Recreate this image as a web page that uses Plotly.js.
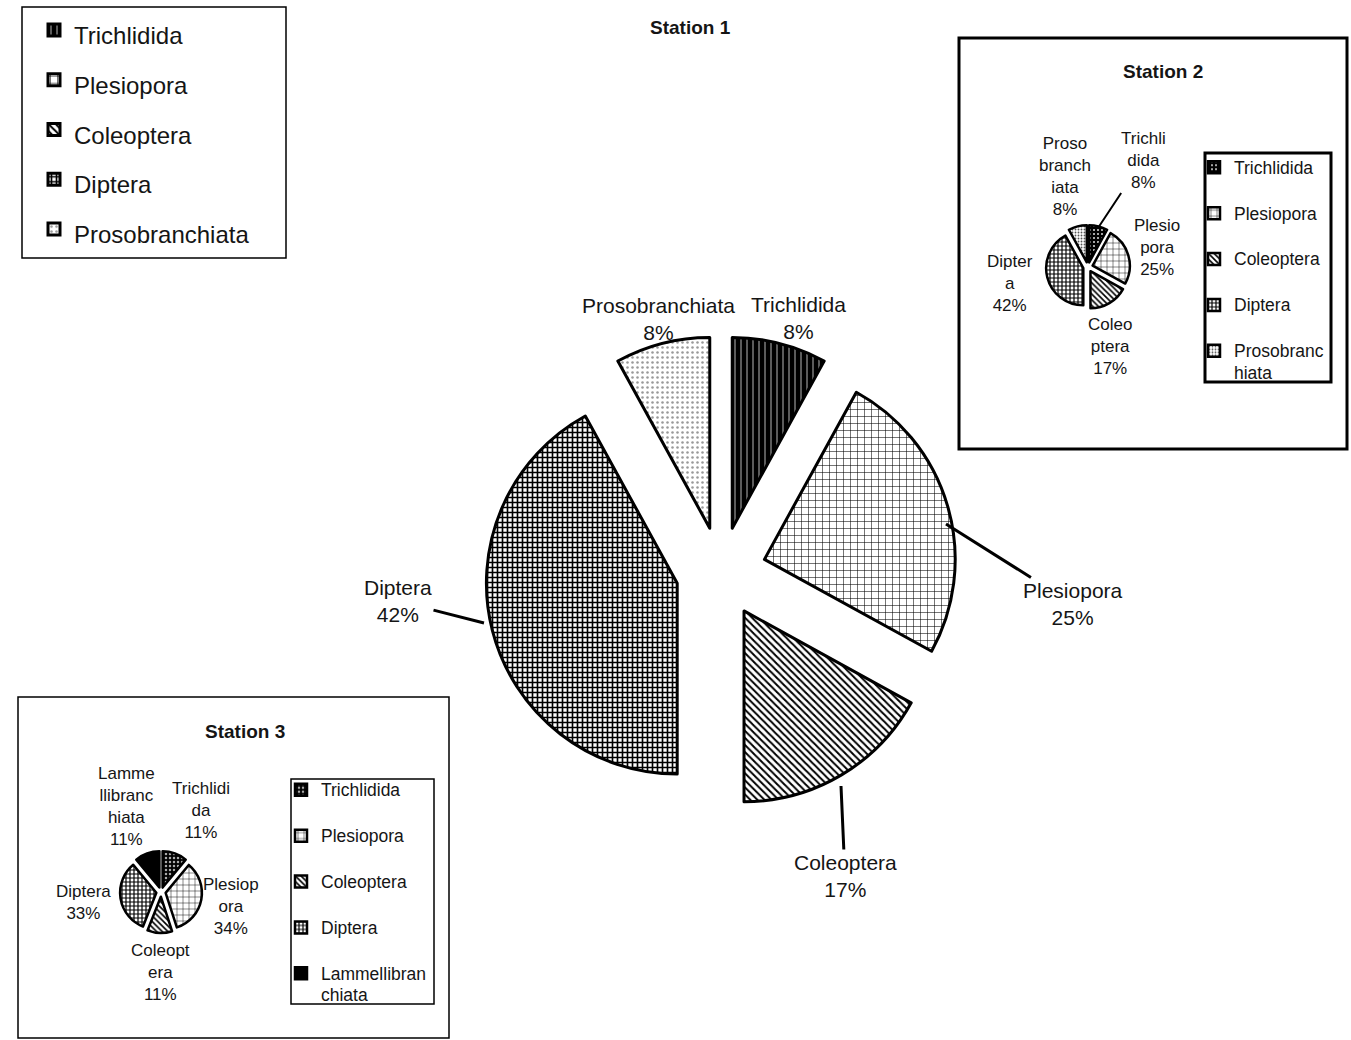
<!DOCTYPE html>
<html><head><meta charset="utf-8">
<script src="https://cdn.plot.ly/plotly-3.0.1.min.js"></script>
<style>html,body{margin:0;padding:0;background:#fff}#chart{width:1351px;height:1040px}</style>
</head><body><div id="chart"></div>
<script>
// ---------------- data ----------------
const categories1 = ['Trichlidida','Plesiopora','Coleoptera','Diptera','Prosobranchiata'];
const percents1   = [8, 25, 17, 42, 8];
const sliceLabels1 = ['Trichlidida','Plesiopora','Coleoptera','Diptera','Prosobranchiata'];

const categories2 = ['Trichlidida','Plesiopora','Coleoptera','Diptera','Prosobranchiata'];
const percents2   = [8, 25, 17, 42, 8];
const sliceLabels2 = ['Trichli<br>dida','Plesio<br>pora','Coleo<br>ptera','Dipter<br>a','Proso<br>branch<br>iata'];
const legendLabels2 = ['Trichlidida','Plesiopora','Coleoptera','Diptera','Prosobranc<br>hiata'];

const categories3 = ['Trichlidida','Plesiopora','Coleoptera','Diptera','Lammellibranchiata'];
const percents3   = [11, 34, 11, 33, 11];
const sliceLabels3 = ['Trichlidi<br>da','Plesiop<br>ora','Coleopt<br>era','Diptera','Lamme<br>llibranc<br>hiata'];
const legendLabels3 = ['Trichlidida','Plesiopora','Coleoptera','Diptera','Lammellibran<br>chiata'];

const titles = ['Station 1','Station 2','Station 3'];

// ---------------- layout helpers ----------------
const W = 1351, H = 1040;
const FONT = 'Liberation Sans, Arial, sans-serif';
const TXT = '#151515';
const px = x => x / W;
const py = y => 1 - y / H;
function domainAt(cx, cy, size) {
  return {x: [px(cx - size / 2), px(cx + size / 2)], y: [py(cy + size / 2), py(cy - size / 2)]};
}
const span = (s, size) => '<span style="font-size:' + size + 'px">' + s + '</span>';
// two-line legend entries (a blank second line gives the item spacing)
const twoLine = s => (s.indexOf('<br>') >= 0 ? s : s + '<br>\u00a0');
const pct = (vals) => { const t = vals.reduce((a, b) => a + b, 0); return vals.map(v => Math.round(v / t * 100) + '%'); };

// pattern styles
const patBig = {
  shape:   ['|', '+', '\\', '+', '.'],
  bgcolor: ['#000', '#fff', '#fff', '#fff', '#fff'],
  fgcolor: ['#fff', '#000', '#000', '#000', '#999'],
  size:    [6, 7, 5, 5, 5],
  solidity:[0.12, 0.15, 0.4, 0.55, 0.2],
  fillmode: 'replace'
};
const patS2 = {
  shape:   ['.', '+', '\\', '+', '.'],
  bgcolor: ['#000', '#fff', '#fff', '#fff', '#fff'],
  fgcolor: ['#ddd', '#000', '#000', '#000', '#555'],
  size:    [4, 6, 4, 4, 3],
  solidity:[0.2, 0.15, 0.4, 0.5, 0.3],
  fillmode: 'replace'
};
const patS3 = {
  shape:   ['.', '+', '\\', '+', ''],
  bgcolor: ['#000', '#fff', '#fff', '#fff', '#000'],
  fgcolor: ['#aaa', '#000', '#000', '#000', '#000'],
  size:    [4, 6, 4, 4, 4],
  solidity:[0.3, 0.15, 0.4, 0.5, 0.3],
  fillmode: 'replace'
};

function pieTrace(labels, values, domain, pull, lineW, pattern, legendId, colors) {
  return {
    type: 'pie', labels: labels, values: values, sort: false,
    direction: 'clockwise', rotation: 0, domain: domain, pull: pull,
    textinfo: 'none', hoverinfo: 'none', legend: legendId, legendgroup: legendId,
    marker: {colors: colors, line: {color: '#000', width: lineW}, pattern: pattern}
  };
}

const traces = [
  pieTrace(categories1.map(c => span(c, 24)), percents1, domainAt(721, 572, 472), 0.237, 3, patBig, 'legend',
           ['#000','#fff','#fff','#fff','#fff']),
  pieTrace(legendLabels2.map(l => span(twoLine(l), 17.5)), percents2, domainAt(1088, 267, 84), 0.13, 2.5, patS2, 'legend2',
           ['#000','#fff','#fff','#fff','#fff']),
  pieTrace(legendLabels3.map(l => span(twoLine(l), 17.5)), percents3, domainAt(161, 892, 82), 0.13, 2.5, patS3, 'legend3',
           ['#000','#fff','#fff','#fff','#000'])
];

// label positions (pixel centres) and optional leader tips
const labelPos1 = [[798,318,null],[1073,604,[946,524]],[845,876,[841,786]],[398,601,[484,623]],[658,319,null]];
const labelPos2 = [[1143,160,[1098,228]],[1157,247,null],[1110,347,null],[1010,284,null],[1065,176,null]];
const labelPos3 = [[201,810,null],[231,906,null],[160,972,null],[83,902,null],[126,806,null]];

function labelAnns(texts, vals, pos, size, arrowW) {
  const p = pct(vals);
  return texts.map((t, i) => {
    const [x, y, tip] = pos[i];
    const a = {text: t + '<br>' + p[i], xref: 'paper', yref: 'paper', align: 'center',
               font: {family: FONT, size: size, color: TXT}};
    if (tip) {
      Object.assign(a, {x: px(tip[0]), y: py(tip[1]), ax: x - tip[0], ay: y - tip[1],
        showarrow: true, arrowhead: 0, arrowwidth: arrowW, arrowcolor: '#000', standoff: 0, startstandoff: 0});
    } else {
      Object.assign(a, {x: px(x), y: py(y), xanchor: 'center', yanchor: 'middle', showarrow: false});
    }
    return a;
  });
}

const titlePos = [[690, 27], [1163, 72], [245, 731]];
const titleAnns = titles.map((t, i) => ({
  text: '<b>' + t + '</b>', x: px(titlePos[i][0]), y: py(titlePos[i][1]), xref: 'paper', yref: 'paper',
  xanchor: 'center', yanchor: 'middle', showarrow: false, font: {family: FONT, size: 19, color: TXT}
}));

function box(x0, y0, x1, y1, w) {
  return {type: 'rect', xref: 'paper', yref: 'paper', x0: px(x0), x1: px(x1), y0: py(y1), y1: py(y0),
          line: {color: '#000', width: w}, fillcolor: 'rgba(0,0,0,0)'};
}

const legendBase = {bgcolor: 'rgba(0,0,0,0)', borderwidth: 0, xanchor: 'left', yanchor: 'top',
                    itemclick: false, itemdoubleclick: false, valign: 'top', tracegroupgap: 0};

const layout = {
  width: W, height: H, margin: {l: 0, r: 0, t: 0, b: 0},
  paper_bgcolor: '#fff', plot_bgcolor: '#fff', showlegend: true,
  legend:  Object.assign({}, legendBase, {x: px(34),   y: py(0),     font: {family: FONT, size: 36, color: TXT}}),
  legend2: Object.assign({}, legendBase, {x: px(1194), y: py(150),   font: {family: FONT, size: 16.5, color: TXT}}),
  legend3: Object.assign({}, legendBase, {x: px(281),  y: py(772.5), font: {family: FONT, size: 16.5, color: TXT}}),
  annotations: [].concat(
    titleAnns,
    labelAnns(sliceLabels1, percents1, labelPos1, 21, 3),
    labelAnns(sliceLabels2, percents2, labelPos2, 17, 2),
    labelAnns(sliceLabels3, percents3, labelPos3, 17, 2)
  ),
  shapes: [
    box(22, 7, 286, 258, 1.5),
    box(959, 38, 1347, 449, 3),
    box(1205, 153, 1331, 382, 3),
    box(18, 697, 449, 1038, 1.5),
    box(291, 779, 434, 1004, 1.5)
  ]
};

Plotly.newPlot('chart', traces, layout, {staticPlot: true, displayModeBar: false});
</script>
</body></html>
